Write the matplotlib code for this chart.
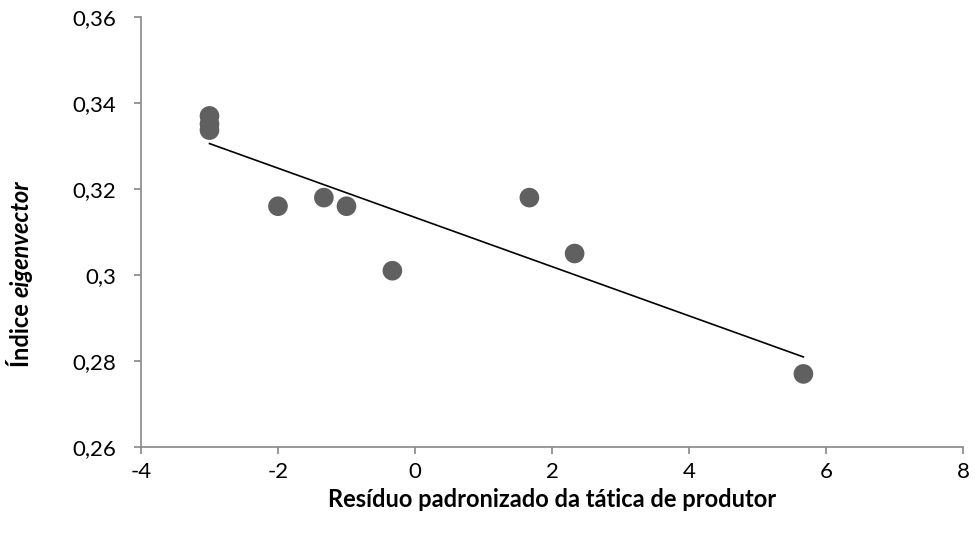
import numpy as np
import matplotlib
matplotlib.use("Agg")
import matplotlib.pyplot as plt
from matplotlib.ticker import FuncFormatter

x_vals = [-3.0, -3.0, -3.0, -2.0, -1.33, -1.0, -0.33, 1.67, 2.33, 5.67]
y_vals = [0.337, 0.3351, 0.3337, 0.316, 0.318, 0.316, 0.301, 0.318, 0.305, 0.277]
x_ticks = [-4, -2, 0, 2, 4, 6, 8]
y_ticks = [0.26, 0.28, 0.30, 0.32, 0.34, 0.36]
x_label = "Resíduo padronizado da tática de produtor"
y_label_a = "Índice "
y_label_b = "eigenvector"

plt.rcParams['font.family'] = ['Lato', 'DejaVu Sans']
fig = plt.figure(figsize=(9.75, 5.4), dpi=100)
ax = fig.add_axes([0.1446, 0.1722, 0.8431, 0.7963])

ax.scatter(x_vals, y_vals, s=200, color='#606060', zorder=3, edgecolors='none')
coef = np.polyfit(x_vals, y_vals, 1)
xl = np.array([min(x_vals), max(x_vals)])
ax.plot(xl, np.polyval(coef, xl), color='black', lw=1.2, zorder=2)

ax.set_xlim(-4, 8)
ax.set_ylim(0.26, 0.36)
ax.set_xticks(x_ticks)
ax.set_yticks(y_ticks)

def yfmt(v, pos):
    s = f"{v:.2f}".rstrip('0').rstrip('.')
    return s.replace('.', ',')
ax.yaxis.set_major_formatter(FuncFormatter(yfmt))
ax.xaxis.set_major_formatter(FuncFormatter(lambda v, p: f"{int(v)}"))

for s in ['top', 'right']:
    ax.spines[s].set_visible(False)
for s in ['left', 'bottom']:
    ax.spines[s].set_color('#888888')
    ax.spines[s].set_linewidth(1.2)
ax.tick_params(axis='both', direction='out', length=5, width=1.2, color='#888888',
               labelsize=16, labelcolor='black')
ax.tick_params(axis='y', pad=13)
ax.tick_params(axis='x', pad=6)

ax.set_xlabel(x_label, fontsize=17, fontweight='bold', labelpad=4)
fig.text(0.022, 0.45, y_label_a, rotation=90, fontsize=17, fontweight='bold', ha='center', va='top')
fig.text(0.022, 0.45, y_label_b, rotation=90, fontsize=17, fontweight='bold', style='italic', ha='center', va='bottom')

fig.savefig("out.png", dpi=100)
